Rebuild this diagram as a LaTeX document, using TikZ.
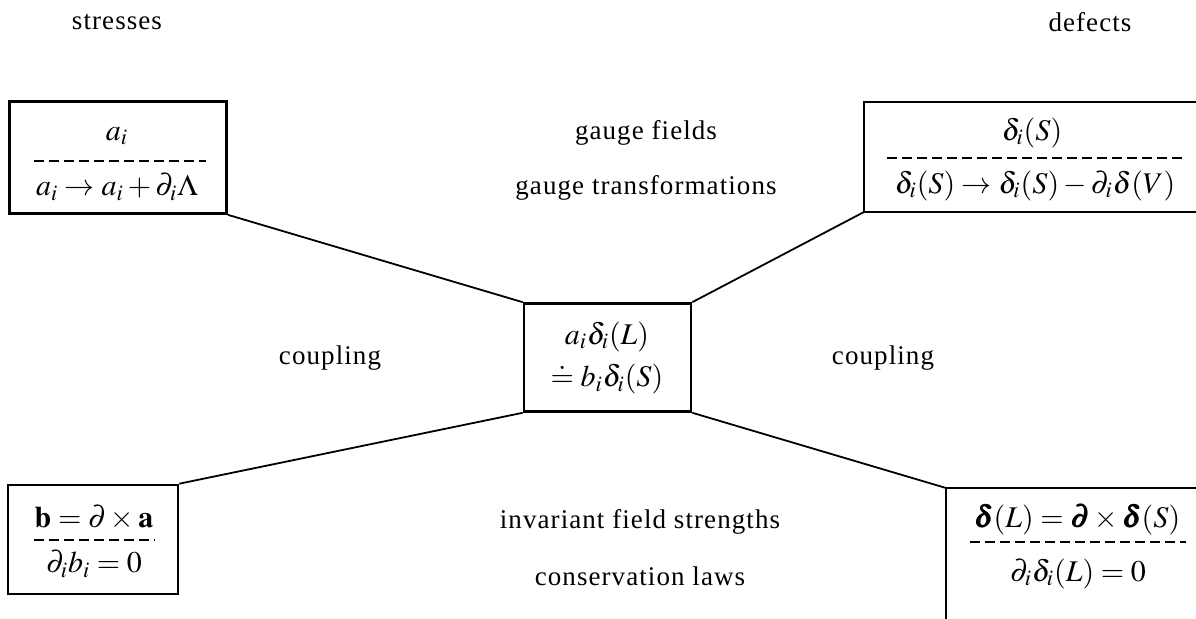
\documentclass[tikz,border=0pt]{standalone}
\usepackage{mathptmx}
\usepackage{bm}
\usepackage{fontspec}
\setmainfont[LetterSpace=4]{Liberation Serif}
\begin{document}
\begin{tikzpicture}[x=0.5pt,y=-0.5pt,
  box/.style={draw=black,line width=1.3pt},
  link/.style={draw=black,line width=0.9pt},
  dashrule/.style={draw=black,line width=0.7pt,dash pattern=on 5pt off 2.5pt},
  lbl/.style={font=\fontsize{13.5}{15}\selectfont,inner sep=0pt},
  mth/.style={font=\fontsize{15}{17}\selectfont,inner sep=0pt}]
\useasboundingbox (0,0) rectangle (1196,619);
% boxes
\node[box,inner sep=0pt,minimum width=217pt/2,minimum height=112pt/2] (tl) at (118,157.5) {};
\node[box,inner sep=0pt,minimum width=167pt/2,minimum height=108pt/2] (c) at (607.5,357.5) {};
\node[box,inner sep=0pt,minimum width=170pt/2,minimum height=109pt/2] (bl) at (93,539.5) {};
\coordinate (trNW) at (864,102);
\coordinate (trSW) at (864,212);
\coordinate (brNW) at (946,488);
\draw[box] (1196,102) -- (trNW) -- (trSW) -- (1196,212);
\draw[box] (1196,488) -- (brNW) -- (946,619);
% texts in boxes
\node[mth] (tl1) at (117,136) {$a_i$};
\draw[dashrule] (34,161) -- (206,161);
\node[mth] (tl2) at (117,187) {$a_i \rightarrow a_i + \partial_i \Lambda$};
\node[mth] (tr1) at (1032,133) {$\delta_i(S)$};
\draw[dashrule] (887,158) -- (1186,158);
\node[mth] (tr2) at (1035,186) {$\delta_i(S) \rightarrow \delta_i(S) - \partial_i \delta(V)$};
\node[mth] (c1) at (607,337) {$a_i\delta_i(L)$};
\node[mth] (c2) at (607,379) {$\doteq b_i\delta_i(S)$};
\node[mth] (bl1) at (94,518) {$\mathbf{b} = \partial \times \mathbf{a}$};
\draw[dashrule] (34,540) -- (155,540);
\node[mth] (bl2) at (94,564) {$\partial_i b_i = 0$};
\node[mth] (br1) at (1077,520) {$\bm{\delta}(L) = \bm{\partial} \times \bm{\delta}(S)$};
\draw[dashrule] (970,542) -- (1186,542);
\node[mth] (br2) at (1078,574) {$\partial_i \delta_i(L) = 0$};
% connectors
\draw[link] (tl.south east) -- (c.north west);
\draw[link] (trSW) -- (c.north east);
\draw[link] (bl.north east) -- (c.south west);
\draw[link] (brNW) -- (c.south east);
% labels
\node[lbl] (st) at (117,22) {stresses};
\node[lbl] (de) at (1090,22) {defects};
\node[lbl] (gf) at (646,133) {gauge fields};
\node[lbl] (gt) at (646,188) {gauge transformations};
\node[lbl] (cpl) at (330,358) {coupling};
\node[lbl] (cpr) at (883,358) {coupling};
\node[lbl] (ifs) at (640,522) {invariant field strengths};
\node[lbl] (cl) at (640,576) {conservation laws};
\end{tikzpicture}
\end{document}
